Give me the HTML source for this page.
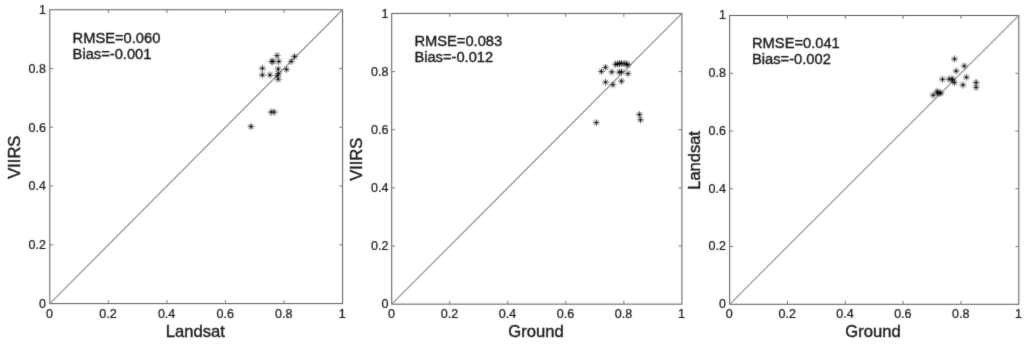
<!DOCTYPE html><html><head><meta charset="utf-8"><title>Scatter plots</title><style>html,body{margin:0;padding:0;background:#fff}svg{display:block}text{font-family:"Liberation Sans",Arial,sans-serif;fill:#161616;stroke:#161616;stroke-width:0.35px}.t text{stroke-width:0.22px}</style></head><body>
<svg width="1024" height="345" viewBox="0 0 1024 345">
<defs><filter id="b" filterUnits="userSpaceOnUse" x="0" y="0" width="1024" height="345"><feConvolveMatrix order="3" kernelMatrix="0.0113 0.0838 0.0113 0.0838 0.6193 0.0838 0.0113 0.0838 0.0113" divisor="1" edgeMode="none" preserveAlpha="false"/></filter></defs>
<rect width="1024" height="345" fill="#fff"/>
<g filter="url(#b)">
<g stroke="#5a5a5a" stroke-width="1" fill="none">
<rect x="49.80" y="9.75" width="292.80" height="293.85"/>
<line x1="49.80" y1="303.60" x2="342.60" y2="9.75" stroke="#8c8c8c" stroke-width="1.15"/>
<path d="M108.36 303.60v-3.40M108.36 9.75v3.40M49.80 244.83h3.40M342.60 244.83h-3.40M166.92 303.60v-3.40M166.92 9.75v3.40M49.80 186.06h3.40M342.60 186.06h-3.40M225.48 303.60v-3.40M225.48 9.75v3.40M49.80 127.29h3.40M342.60 127.29h-3.40M284.04 303.60v-3.40M284.04 9.75v3.40M49.80 68.52h3.40M342.60 68.52h-3.40" stroke="#7a7a7a"/>
</g>
<g class="t" font-size="12.5">
<text x="49.50" y="317.90" text-anchor="middle">0</text>
<text x="46.00" y="307.85" text-anchor="end">0</text>
<text x="108.06" y="317.90" text-anchor="middle">0.2</text>
<text x="46.00" y="249.08" text-anchor="end">0.2</text>
<text x="166.62" y="317.90" text-anchor="middle">0.4</text>
<text x="46.00" y="190.31" text-anchor="end">0.4</text>
<text x="225.18" y="317.90" text-anchor="middle">0.6</text>
<text x="46.00" y="131.54" text-anchor="end">0.6</text>
<text x="283.74" y="317.90" text-anchor="middle">0.8</text>
<text x="46.00" y="72.77" text-anchor="end">0.8</text>
<text x="342.30" y="317.90" text-anchor="middle">1</text>
<text x="46.00" y="14.00" text-anchor="end">1</text>
</g>
<text x="195.40" y="337.20" font-size="16.6" text-anchor="middle">Landsat</text>
<text transform="translate(20.30 157.18) rotate(-90)" font-size="16.5" text-anchor="middle">VIIRS</text>
<text x="72.60" y="42.60" font-size="14.7">RMSE=0.060</text>
<text x="72.60" y="59.20" font-size="14.7">Bias=-0.001</text>
<g><path d="M247.55 126.50h6.90M251.00 123.05v6.90M248.56 124.06l4.88 4.88M248.56 128.94l4.88 -4.88M267.80 112.10h6.90M271.25 108.65v6.90M268.81 109.66l4.88 4.88M268.81 114.54l4.88 -4.88M270.65 112.10h6.90M274.10 108.65v6.90M271.66 109.66l4.88 4.88M271.66 114.54l4.88 -4.88M258.95 68.35h6.90M262.40 64.90v6.90M259.96 65.91l4.88 4.88M259.96 70.79l4.88 -4.88M258.95 74.95h6.90M262.40 71.50v6.90M259.96 72.51l4.88 4.88M259.96 77.39l4.88 -4.88M266.55 74.95h6.90M270.00 71.50v6.90M267.56 72.51l4.88 4.88M267.56 77.39l4.88 -4.88M268.35 61.40h6.90M271.80 57.95v6.90M269.36 58.96l4.88 4.88M269.36 63.84l4.88 -4.88M269.45 61.40h6.90M272.90 57.95v6.90M270.46 58.96l4.88 4.88M270.46 63.84l4.88 -4.88M273.60 55.60h6.90M277.05 52.15v6.90M274.61 53.16l4.88 4.88M274.61 58.04l4.88 -4.88M275.30 61.40h6.90M278.75 57.95v6.90M276.31 58.96l4.88 4.88M276.31 63.84l4.88 -4.88M274.75 68.95h6.90M278.20 65.50v6.90M275.76 66.51l4.88 4.88M275.76 71.39l4.88 -4.88M275.05 73.40h6.90M278.50 69.95v6.90M276.06 70.96l4.88 4.88M276.06 75.84l4.88 -4.88M273.85 75.60h6.90M277.30 72.15v6.90M274.86 73.16l4.88 4.88M274.86 78.04l4.88 -4.88M274.75 79.20h6.90M278.20 75.75v6.90M275.76 76.76l4.88 4.88M275.76 81.64l4.88 -4.88M283.02 69.40h6.90M286.47 65.95v6.90M284.03 66.96l4.88 4.88M284.03 71.84l4.88 -4.88M287.75 61.40h6.90M291.20 57.95v6.90M288.76 58.96l4.88 4.88M288.76 63.84l4.88 -4.88M291.11 56.50h6.90M294.56 53.05v6.90M292.12 54.06l4.88 4.88M292.12 58.94l4.88 -4.88" stroke="#111" stroke-width="0.65" fill="none"/><g fill="#000"><circle cx="251.00" cy="126.50" r="0.9"/><circle cx="271.25" cy="112.10" r="0.9"/><circle cx="274.10" cy="112.10" r="0.9"/><circle cx="262.40" cy="68.35" r="0.9"/><circle cx="262.40" cy="74.95" r="0.9"/><circle cx="270.00" cy="74.95" r="0.9"/><circle cx="271.80" cy="61.40" r="0.9"/><circle cx="272.90" cy="61.40" r="0.9"/><circle cx="277.05" cy="55.60" r="0.9"/><circle cx="278.75" cy="61.40" r="0.9"/><circle cx="278.20" cy="68.95" r="0.9"/><circle cx="278.50" cy="73.40" r="0.9"/><circle cx="277.30" cy="75.60" r="0.9"/><circle cx="278.20" cy="79.20" r="0.9"/><circle cx="286.47" cy="69.40" r="0.9"/><circle cx="291.20" cy="61.40" r="0.9"/><circle cx="294.56" cy="56.50" r="0.9"/></g></g>
<g stroke="#5a5a5a" stroke-width="1" fill="none">
<rect x="391.70" y="13.45" width="290.20" height="290.70"/>
<line x1="391.70" y1="304.15" x2="681.90" y2="13.45" stroke="#8c8c8c" stroke-width="1.15"/>
<path d="M449.74 304.15v-3.40M449.74 13.45v3.40M391.70 246.01h3.40M681.90 246.01h-3.40M507.78 304.15v-3.40M507.78 13.45v3.40M391.70 187.87h3.40M681.90 187.87h-3.40M565.82 304.15v-3.40M565.82 13.45v3.40M391.70 129.73h3.40M681.90 129.73h-3.40M623.86 304.15v-3.40M623.86 13.45v3.40M391.70 71.59h3.40M681.90 71.59h-3.40" stroke="#7a7a7a"/>
</g>
<g class="t" font-size="12.5">
<text x="391.40" y="318.45" text-anchor="middle">0</text>
<text x="388.50" y="308.40" text-anchor="end">0</text>
<text x="449.44" y="318.45" text-anchor="middle">0.2</text>
<text x="388.50" y="250.26" text-anchor="end">0.2</text>
<text x="507.48" y="318.45" text-anchor="middle">0.4</text>
<text x="388.50" y="192.12" text-anchor="end">0.4</text>
<text x="565.52" y="318.45" text-anchor="middle">0.6</text>
<text x="388.50" y="133.98" text-anchor="end">0.6</text>
<text x="623.56" y="318.45" text-anchor="middle">0.8</text>
<text x="388.50" y="75.84" text-anchor="end">0.8</text>
<text x="681.60" y="318.45" text-anchor="middle">1</text>
<text x="388.50" y="17.70" text-anchor="end">1</text>
</g>
<text x="536.00" y="337.45" font-size="16.6" text-anchor="middle">Ground</text>
<text transform="translate(362.00 159.30) rotate(-90)" font-size="16.5" text-anchor="middle">VIIRS</text>
<text x="414.40" y="46.00" font-size="14.7">RMSE=0.083</text>
<text x="414.40" y="62.30" font-size="14.7">Bias=-0.012</text>
<g><path d="M602.05 67.40h6.90M605.50 63.95v6.90M603.06 64.96l4.88 4.88M603.06 69.84l4.88 -4.88M597.95 71.50h6.90M601.40 68.05v6.90M598.96 69.06l4.88 4.88M598.96 73.94l4.88 -4.88M608.30 71.90h6.90M611.75 68.45v6.90M609.31 69.46l4.88 4.88M609.31 74.34l4.88 -4.88M615.80 72.20h6.90M619.25 68.75v6.90M616.81 69.76l4.88 4.88M616.81 74.64l4.88 -4.88M618.05 71.90h6.90M621.50 68.45v6.90M619.06 69.46l4.88 4.88M619.06 74.34l4.88 -4.88M624.50 73.60h6.90M627.95 70.15v6.90M625.51 71.16l4.88 4.88M625.51 76.04l4.88 -4.88M602.15 82.20h6.90M605.60 78.75v6.90M603.16 79.76l4.88 4.88M603.16 84.64l4.88 -4.88M609.50 84.70h6.90M612.95 81.25v6.90M610.51 82.26l4.88 4.88M610.51 87.14l4.88 -4.88M618.05 81.20h6.90M621.50 77.75v6.90M619.06 78.76l4.88 4.88M619.06 83.64l4.88 -4.88M612.05 64.30h6.90M615.50 60.85v6.90M613.06 61.86l4.88 4.88M613.06 66.74l4.88 -4.88M614.15 63.90h6.90M617.60 60.45v6.90M615.16 61.46l4.88 4.88M615.16 66.34l4.88 -4.88M616.05 63.60h6.90M619.50 60.15v6.90M617.06 61.16l4.88 4.88M617.06 66.04l4.88 -4.88M617.85 63.40h6.90M621.30 59.95v6.90M618.86 60.96l4.88 4.88M618.86 65.84l4.88 -4.88M620.75 63.60h6.90M624.20 60.15v6.90M621.76 61.16l4.88 4.88M621.76 66.04l4.88 -4.88M623.05 64.00h6.90M626.50 60.55v6.90M624.06 61.56l4.88 4.88M624.06 66.44l4.88 -4.88M624.55 64.80h6.90M628.00 61.35v6.90M625.56 62.36l4.88 4.88M625.56 67.24l4.88 -4.88M592.85 122.60h6.90M596.30 119.15v6.90M593.86 120.16l4.88 4.88M593.86 125.04l4.88 -4.88M635.95 114.50h6.90M639.40 111.05v6.90M636.96 112.06l4.88 4.88M636.96 116.94l4.88 -4.88M637.05 119.80h6.90M640.50 116.35v6.90M638.06 117.36l4.88 4.88M638.06 122.24l4.88 -4.88" stroke="#111" stroke-width="0.65" fill="none"/><g fill="#000"><circle cx="605.50" cy="67.40" r="0.9"/><circle cx="601.40" cy="71.50" r="0.9"/><circle cx="611.75" cy="71.90" r="0.9"/><circle cx="619.25" cy="72.20" r="0.9"/><circle cx="621.50" cy="71.90" r="0.9"/><circle cx="627.95" cy="73.60" r="0.9"/><circle cx="605.60" cy="82.20" r="0.9"/><circle cx="612.95" cy="84.70" r="0.9"/><circle cx="621.50" cy="81.20" r="0.9"/><circle cx="615.50" cy="64.30" r="0.9"/><circle cx="617.60" cy="63.90" r="0.9"/><circle cx="619.50" cy="63.60" r="0.9"/><circle cx="621.30" cy="63.40" r="0.9"/><circle cx="624.20" cy="63.60" r="0.9"/><circle cx="626.50" cy="64.00" r="0.9"/><circle cx="628.00" cy="64.80" r="0.9"/><circle cx="596.30" cy="122.60" r="0.9"/><circle cx="639.40" cy="114.50" r="0.9"/><circle cx="640.50" cy="119.80" r="0.9"/></g></g>
<g stroke="#5a5a5a" stroke-width="1" fill="none">
<rect x="729.65" y="15.50" width="289.15" height="288.80"/>
<line x1="729.65" y1="304.30" x2="1018.80" y2="15.50" stroke="#8c8c8c" stroke-width="1.15"/>
<path d="M787.48 304.30v-3.40M787.48 15.50v3.40M729.65 246.54h3.40M1018.80 246.54h-3.40M845.31 304.30v-3.40M845.31 15.50v3.40M729.65 188.78h3.40M1018.80 188.78h-3.40M903.14 304.30v-3.40M903.14 15.50v3.40M729.65 131.02h3.40M1018.80 131.02h-3.40M960.97 304.30v-3.40M960.97 15.50v3.40M729.65 73.26h3.40M1018.80 73.26h-3.40" stroke="#7a7a7a"/>
</g>
<g class="t" font-size="12.5">
<text x="729.35" y="318.10" text-anchor="middle">0</text>
<text x="725.85" y="308.05" text-anchor="end">0</text>
<text x="787.18" y="318.10" text-anchor="middle">0.2</text>
<text x="725.85" y="250.29" text-anchor="end">0.2</text>
<text x="845.01" y="318.10" text-anchor="middle">0.4</text>
<text x="725.85" y="192.53" text-anchor="end">0.4</text>
<text x="902.84" y="318.10" text-anchor="middle">0.6</text>
<text x="725.85" y="134.77" text-anchor="end">0.6</text>
<text x="960.67" y="318.10" text-anchor="middle">0.8</text>
<text x="725.85" y="77.01" text-anchor="end">0.8</text>
<text x="1018.50" y="318.10" text-anchor="middle">1</text>
<text x="725.85" y="19.25" text-anchor="end">1</text>
</g>
<text x="873.02" y="337.40" font-size="16.6" text-anchor="middle">Ground</text>
<text transform="translate(700.00 160.40) rotate(-90)" font-size="16.5" text-anchor="middle">Landsat</text>
<text x="752.00" y="47.80" font-size="14.7">RMSE=0.041</text>
<text x="752.00" y="64.10" font-size="14.7">Bias=-0.002</text>
<g><path d="M951.05 59.00h6.90M954.50 55.55v6.90M952.06 56.56l4.88 4.88M952.06 61.44l4.88 -4.88M960.85 66.00h6.90M964.30 62.55v6.90M961.86 63.56l4.88 4.88M961.86 68.44l4.88 -4.88M952.75 71.00h6.90M956.20 67.55v6.90M953.76 68.56l4.88 4.88M953.76 73.44l4.88 -4.88M962.95 77.30h6.90M966.40 73.85v6.90M963.96 74.86l4.88 4.88M963.96 79.74l4.88 -4.88M939.05 79.30h6.90M942.50 75.85v6.90M940.06 76.86l4.88 4.88M940.06 81.74l4.88 -4.88M945.65 79.10h6.90M949.10 75.65v6.90M946.66 76.66l4.88 4.88M946.66 81.54l4.88 -4.88M948.55 78.90h6.90M952.00 75.45v6.90M949.56 76.46l4.88 4.88M949.56 81.34l4.88 -4.88M949.05 80.00h6.90M952.50 76.55v6.90M950.06 77.56l4.88 4.88M950.06 82.44l4.88 -4.88M950.95 82.60h6.90M954.40 79.15v6.90M951.96 80.16l4.88 4.88M951.96 85.04l4.88 -4.88M959.45 85.00h6.90M962.90 81.55v6.90M960.46 82.56l4.88 4.88M960.46 87.44l4.88 -4.88M972.65 82.50h6.90M976.10 79.05v6.90M973.66 80.06l4.88 4.88M973.66 84.94l4.88 -4.88M972.65 87.30h6.90M976.10 83.85v6.90M973.66 84.86l4.88 4.88M973.66 89.74l4.88 -4.88M929.75 95.20h6.90M933.20 91.75v6.90M930.76 92.76l4.88 4.88M930.76 97.64l4.88 -4.88M933.75 91.40h6.90M937.20 87.95v6.90M934.76 88.96l4.88 4.88M934.76 93.84l4.88 -4.88M934.15 93.20h6.90M937.60 89.75v6.90M935.16 90.76l4.88 4.88M935.16 95.64l4.88 -4.88M935.75 93.00h6.90M939.20 89.55v6.90M936.76 90.56l4.88 4.88M936.76 95.44l4.88 -4.88M937.45 93.10h6.90M940.90 89.65v6.90M938.46 90.66l4.88 4.88M938.46 95.54l4.88 -4.88" stroke="#111" stroke-width="0.65" fill="none"/><g fill="#000"><circle cx="954.50" cy="59.00" r="0.9"/><circle cx="964.30" cy="66.00" r="0.9"/><circle cx="956.20" cy="71.00" r="0.9"/><circle cx="966.40" cy="77.30" r="0.9"/><circle cx="942.50" cy="79.30" r="0.9"/><circle cx="949.10" cy="79.10" r="0.9"/><circle cx="952.00" cy="78.90" r="0.9"/><circle cx="952.50" cy="80.00" r="0.9"/><circle cx="954.40" cy="82.60" r="0.9"/><circle cx="962.90" cy="85.00" r="0.9"/><circle cx="976.10" cy="82.50" r="0.9"/><circle cx="976.10" cy="87.30" r="0.9"/><circle cx="933.20" cy="95.20" r="0.9"/><circle cx="937.20" cy="91.40" r="0.9"/><circle cx="937.60" cy="93.20" r="0.9"/><circle cx="939.20" cy="93.00" r="0.9"/><circle cx="940.90" cy="93.10" r="0.9"/></g></g>
</g></svg></body></html>
